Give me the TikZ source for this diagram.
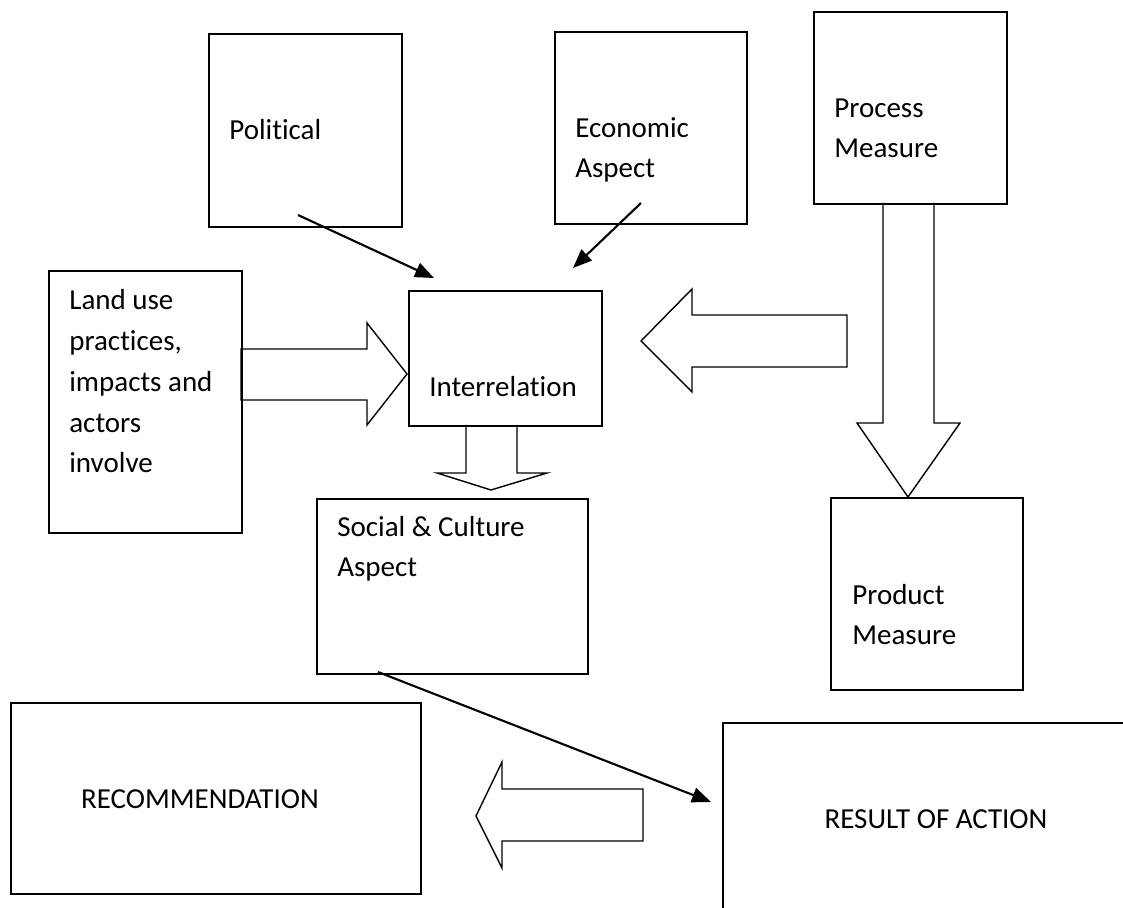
\documentclass[tikz,border=0pt]{standalone}
\usepackage{fontspec}
\setmainfont{Carlito}[Ligatures=NoCommon]
\usetikzlibrary{arrows.meta}

\begin{document}
\begin{tikzpicture}[x=0.02cm, y=-0.02cm,
        box/.style={draw, line width=1pt, anchor=north west, inner sep=0pt},
        txt/.style={anchor=base west, inner sep=0pt, align=left,
                    font=\fontsize{16.5}{23.3}\selectfont},
        fat/.style={draw, line width=0.8pt, line join=miter},
        thin/.style={line width=1.2pt, -{Triangle[length=0.38cm, width=0.3cm]}}]
    \path[use as bounding box, clip] (0,0) rectangle (1123,908);

    % boxes, placed by their top left corner
    \node[box, minimum width=3.86cm, minimum height=3.86cm] (political) at (208,33) {};
    \node[box, minimum width=3.84cm, minimum height=3.84cm] (economic) at (554,31) {};
    \node[box, minimum width=3.86cm, minimum height=3.84cm] (process) at (813,11) {};
    \node[box, minimum width=3.86cm, minimum height=5.24cm] (landuse) at (48,270) {};
    \node[box, minimum width=3.86cm, minimum height=2.70cm] (interrelation) at (408,290) {};
    \node[box, minimum width=5.42cm, minimum height=3.50cm] (social) at (316,498) {};
    \node[box, minimum width=3.84cm, minimum height=3.84cm] (product) at (830,497) {};
    \node[box, minimum width=8.20cm, minimum height=3.82cm] (recommendation) at (10,702) {};
    \node[box, minimum width=8.60cm, minimum height=4.40cm] (result) at (722,722) {};

    % texts (multi-line ones sit on the baseline of their last line)
    \node[txt] (politicaltxt) at (229,140) {Political};
    \node[txt] (economictxt) at (575,178) {Economic\\Aspect};
    \node[txt] (processtxt) at (834,158) {Process\\Measure};
    \node[txt] (landusetxt) at (69,473) {Land use\\practices,\\impacts and\\actors\\involve};
    \node[txt, anchor=base] (interrelationtxt) at (503,397) {Interrelation};
    \node[txt] (socialtxt) at (337,577) {Social \& Culture\\Aspect};
    \node[txt] (producttxt) at (852,645) {Product\\Measure};
    \node[txt, anchor=base] (recommendationtxt) at (200,808) {RECOMMENDATION};
    \node[txt, anchor=base] (resulttxt) at (936,828) {RESULT OF ACTION};

    % thin arrows
    \coordinate (pol-a) at (298,215);
    \coordinate (pol-b) at (434,278);
    \coordinate (eco-a) at (641,203);
    \coordinate (eco-b) at (573,268);
    \coordinate (soc-a) at (378,672);
    \coordinate (soc-b) at (711,802);
    \draw[thin] (pol-a) -- (pol-b);
    \draw[thin] (eco-a) -- (eco-b);
    \draw[thin] (soc-a) -- (soc-b);

    % block arrows
    \draw[fat] (241,349) -- (367,349) -- (367,323) -- (407,374) -- (367,425) -- (367,400) -- (241,400) -- cycle;
    \draw[fat] (847,315) -- (692,315) -- (692,289) -- (641,341) -- (692,392) -- (692,367) -- (847,367) -- cycle;
    \draw[fat] (466,425) -- (466,473) -- (437,473) -- (491,490) -- (547,473) -- (517,473) -- (517,425);
    \draw[fat] (883,203) -- (883,423) -- (857,423) -- (908,497) -- (960,423) -- (934,423) -- (934,203);
    \draw[fat] (643,789) -- (502,789) -- (502,762) -- (476,816) -- (502,868) -- (502,841) -- (643,841) -- cycle;
\end{tikzpicture}
\end{document}
